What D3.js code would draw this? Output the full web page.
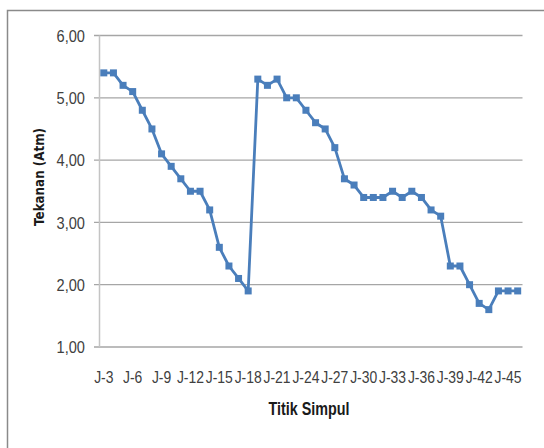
<!DOCTYPE html>
<html>
<head>
<meta charset="utf-8">
<script src="https://cdn.jsdelivr.net/npm/d3@7"></script>
<style>
  html, body { margin: 0; padding: 0; background: #fff; }
  svg { display: block; }
  .lbl { font-family: "Liberation Sans", Arial, sans-serif; fill: #404040; }
</style>
</head>
<body>
<svg id="chart" width="544" height="448"></svg>
<script>
// Node pressure (atm) along the pipe network, nodes J-3 .. J-46
const nodes = d3.range(3, 47).map(i => "J-" + i);
const pressure = [
  5.4, 5.4, 5.2, 5.1, 4.8, 4.5, 4.1, 3.9, 3.7, 3.5, 3.5, 3.2, 2.6, 2.3, 2.1, 1.9,
  5.3, 5.2, 5.3, 5.0, 5.0, 4.8, 4.6, 4.5, 4.2, 3.7, 3.6, 3.4, 3.4, 3.4, 3.5, 3.4,
  3.5, 3.4, 3.2, 3.1, 2.3, 2.3, 2.0, 1.7, 1.6, 1.9, 1.9, 1.9
];
const yTicks = [1, 2, 3, 4, 5, 6];
const xTitle = "Titik Simpul";
const yTitle = "Tekanan (Atm)";

const svg = d3.select("#chart");
const W = 544, H = 448;
const plot = { left: 99, right: 522.5, top: 35.5, bottom: 347 };
const blue = "#4a7ebb";
const narrow = 0.82; // condensed text width

// chart frame
svg.append("rect")
  .attr("x", 7.5).attr("y", 10.5)
  .attr("width", W).attr("height", H)
  .attr("fill", "#fff").attr("stroke", "#8a8a8a").attr("stroke-width", 1.5);

const x = d3.scalePoint().domain(nodes).range([plot.left, plot.right]).padding(0.5);
const y = d3.scaleLinear().domain([1, 6]).range([plot.bottom, plot.top]);

// horizontal gridlines with small left ticks
svg.append("g").selectAll("line").data(yTicks).join("line")
  .attr("x1", plot.left - 5).attr("x2", plot.right)
  .attr("y1", d => y(d)).attr("y2", d => y(d))
  .attr("stroke", "#a6a6a6").attr("stroke-width", 1.3);

// vertical axis line
svg.append("line")
  .attr("x1", plot.left + 0.5).attr("x2", plot.left + 0.5)
  .attr("y1", plot.top).attr("y2", plot.bottom)
  .attr("stroke", "#c4c4c4").attr("stroke-width", 1.5);

// y tick labels
const fmt = d => d3.format(".2f")(d).replace(".", ",");
svg.append("g").selectAll("text").data(yTicks).join("text")
  .attr("class", "lbl")
  .attr("transform", d => `translate(85,${y(d)}) scale(0.86,1)`)
  .attr("dy", "0.36em")
  .attr("text-anchor", "end").attr("font-size", 17)
  .text(fmt);

// x tick labels, every third node
svg.append("g").selectAll("text").data(nodes.filter((d, i) => i % 3 === 0)).join("text")
  .attr("class", "lbl")
  .attr("transform", d => `translate(${x(d)},383) scale(${narrow},1)`)
  .attr("text-anchor", "middle").attr("font-size", 17)
  .text(d => d);

// axis titles
svg.append("text")
  .attr("class", "lbl")
  .attr("transform", `translate(309,415) scale(${narrow},1)`)
  .attr("text-anchor", "middle").attr("font-size", 17.5).attr("font-weight", "bold")
  .style("fill", "#1a1a1a")
  .text(xTitle);

svg.append("text")
  .attr("transform", "translate(44,177) rotate(-90)")
  .attr("text-anchor", "middle")
  .attr("font-family", "'DejaVu Sans', Verdana, sans-serif")
  .attr("font-size", 13.5).attr("font-weight", "bold")
  .attr("textLength", 98).attr("lengthAdjust", "spacingAndGlyphs")
  .attr("fill", "#1a1a1a")
  .text(yTitle);

// pressure line
const line = d3.line().x((d, i) => x(nodes[i])).y(d => y(d));
svg.append("path")
  .datum(pressure)
  .attr("d", line)
  .attr("fill", "none").attr("stroke", blue)
  .attr("stroke-width", 2.8).attr("stroke-linejoin", "round");

// square markers
const m = 7;
svg.append("g").selectAll("rect").data(pressure).join("rect")
  .attr("x", (d, i) => x(nodes[i]) - m / 2)
  .attr("y", d => y(d) - m / 2)
  .attr("width", m).attr("height", m)
  .attr("fill", blue);
</script>
</body>
</html>
